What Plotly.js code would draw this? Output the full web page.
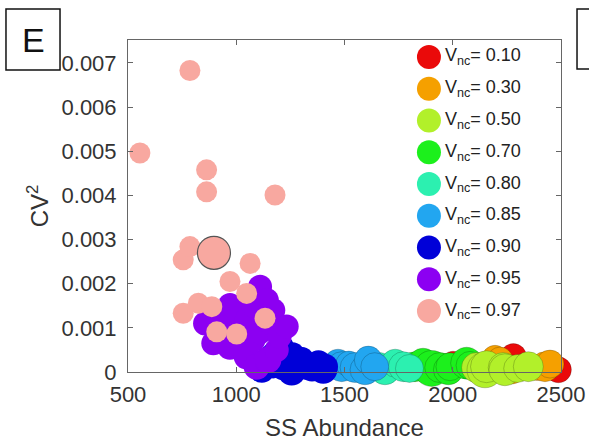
<!DOCTYPE html>
<html>
<head>
<meta charset="utf-8">
<script src="https://cdn.plot.ly/plotly-3.0.1.min.js"></script>
<style>html,body{margin:0;padding:0;background:#fff;}#chart{width:589px;height:443px;}</style>
</head>
<body>
<div id="chart"></div>
<script>
// ---- data ----
const seriesNames = ["V<sub>nc</sub>= 0.10","V<sub>nc</sub>= 0.30","V<sub>nc</sub>= 0.50","V<sub>nc</sub>= 0.70","V<sub>nc</sub>= 0.80","V<sub>nc</sub>= 0.85","V<sub>nc</sub>= 0.90","V<sub>nc</sub>= 0.95","V<sub>nc</sub>= 0.97"];

const x_v010 = [2001, 2100, 2180, 2280, 2330, 2488];
const y_v010 = [0.00020, 0.00015, 0.00020, 0.00035, 0.00015, 0.00005];
const s_v010 = [24, 24, 24, 26, 24, 26];

const x_v030 = [2195, 2218, 2272, 2390, 2426, 2449];
const y_v030 = [0.00031, 0.00027, 0.00002, 0.00010, 0.00012, 0.00018];
const s_v030 = [26, 26, 26, 26, 30, 28];

const x_v050 = [2110, 2149, 2156, 2233, 2241, 2300, 2349];
const y_v050 = [0.00010, 0.00005, 0.00012, 0.00010, 0.00005, 0.00008, 0.00012];
const s_v050 = [30, 36, 32, 30, 32, 28, 30];

const x_v070 = [1826, 1863, 1903, 1940, 1980, 1987, 2064, 2080];
const y_v070 = [0.00012, 0.00020, 0.00008, 0.00010, 0.00005, 0.00012, 0.00020, 0.00015];
const s_v070 = [30, 30, 36, 30, 30, 28, 32, 28];

const x_v080 = [1660, 1687, 1734, 1772, 1800];
const y_v080 = [0.00015, 0.00005, 0.00020, 0.00012, 0.00008];
const s_v080 = [26, 30, 28, 30, 28];

const x_v085 = [1470, 1487, 1520, 1549, 1595, 1610, 1640];
const y_v085 = [0.00020, 0.00012, 0.00018, 0.00010, 0.00005, 0.00027, 0.00012];
const s_v085 = [28, 30, 26, 30, 30, 28, 28];

const x_v090 = [1118, 1160, 1170, 1180, 1202, 1210, 1220, 1233, 1256, 1260, 1294, 1302, 1325, 1350, 1380, 1402, 1410];
const y_v090 = [0.00005, 0.00035, 0.00015, 0.00045, 0.00057, 0.00057, 0.00010, 0.00027, 0.00001, 0.00040, 0.00027, 0.00027, 0.00012, 0.00008, 0.00020, 0.00005, 0.00012];
const s_v090 = [26, 24, 26, 24, 24, 24, 26, 26, 28, 24, 26, 26, 26, 26, 26, 28, 26];

const x_v095 = [856, 894, 930, 940, 971, 971, 1000, 1000, 1020, 1048, 1048, 1079, 1080, 1094, 1110, 1110, 1141, 1141, 1148, 1160, 1171, 1187, 1200, 1233];
const y_v095 = [0.00110, 0.00065, 0.00090, 0.00130, 0.00152, 0.00057, 0.00140, 0.00060, 0.00095, 0.00118, 0.00035, 0.00072, 0.00150, 0.00012, 0.00193, 0.00090, 0.00163, 0.00027, 0.00027, 0.00110, 0.00140, 0.00050, 0.00080, 0.00103];
const s_v095 = [24, 24, 24, 24, 24, 26, 24, 26, 24, 24, 26, 24, 24, 26, 24, 24, 24, 26, 26, 24, 24, 24, 24, 24];

const x_v097 = [555, 786, 863, 863, 1179, 755, 786, 1064, 971, 1048, 755, 825, 887, 910, 1002, 1133, 897];
const y_v097 = [0.00496, 0.00683, 0.00458, 0.00408, 0.00401, 0.00254, 0.00284, 0.00246, 0.00205, 0.00178, 0.00133, 0.00156, 0.00148, 0.00091, 0.00086, 0.00122, 0.00270];
const s_v097 = [21, 21, 21, 21, 21, 21, 21, 21, 21, 21, 21, 21, 21, 21, 21, 21, 33];

const xTicks = [500, 1000, 1500, 2000, 2500];
const yTicks = [0, 0.001, 0.002, 0.003, 0.004, 0.005, 0.006, 0.007];

// ---- styling ----
const colors = ["#ea0a0a", "#f5a000", "#b2f02a", "#1cf01c", "#2cf0b0", "#22a6f0", "#0000d8", "#8c00f2", "#f8a8a0"];
const FONT = "Liberation Sans, Arial, Helvetica, sans-serif";

const seriesX = [x_v010, x_v030, x_v050, x_v070, x_v080, x_v085, x_v090, x_v095, x_v097];
const seriesY = [y_v010, y_v030, y_v050, y_v070, y_v080, y_v085, y_v090, y_v095, y_v097];
const seriesS = [s_v010, s_v030, s_v050, s_v070, s_v080, s_v085, s_v090, s_v095, s_v097];
const drawOrder = [0, 1, 3, 2, 4, 5, 6, 7, 8];

const traces = drawOrder.map(i => {
  const isPink = i === 8;
  const lw = seriesS[i].map(s => isPink ? (s > 25 ? 1.2 : 0) : (i <= 5 ? 0.8 : 0));
  return {
    type: "scatter", mode: "markers", x: seriesX[i], y: seriesY[i],
    cliponaxis: false, showlegend: false, hoverinfo: "skip",
    marker: { size: seriesS[i], color: colors[i], opacity: 1,
      line: { width: lw, color: isPink ? "#555" : "rgba(0,0,0,0.25)" } }
  };
});

// custom legend drawn with its own hidden axes
traces.push({
  type: "scatter", mode: "markers+text", xaxis: "x2", yaxis: "y2",
  x: seriesNames.map(() => 0.695), y: seriesNames,
  text: seriesNames, textposition: "middle right",
  textfont: { family: FONT, size: 18, color: "#222" },
  marker: { size: 24, color: colors }, showlegend: false, hoverinfo: "skip", cliponaxis: false
});

const axisCommon = {
  showline: true, linecolor: "#666", linewidth: 1, mirror: "ticks",
  ticks: "inside", ticklen: 5, tickcolor: "#666", showgrid: false, zeroline: false,
  tickfont: { family: FONT, size: 22, color: "#333" }
};

const layout = {
  width: 589, height: 443,
  margin: { l: 128, r: 28, t: 40, b: 71 },
  paper_bgcolor: "#fff", plot_bgcolor: "rgba(0,0,0,0)",
  showlegend: false,
  xaxis: Object.assign({}, axisCommon, {
    range: [500, 2500], tickvals: xTicks, ticklabelstandoff: 3,
    title: { text: "SS Abundance", font: { family: FONT, size: 24, color: "#333" }, standoff: 12 }
  }),
  yaxis: Object.assign({}, axisCommon, {
    range: [0, 0.00752], tickvals: yTicks, ticktext: yTicks.map(v => String(+v.toFixed(3))),
    ticklabelstandoff: 6,
    title: { text: "CV<sup>2</sup>", font: { family: FONT, size: 24, color: "#333" }, standoff: 6 }
  }),
  xaxis2: { domain: [0, 1], range: [0, 1], anchor: "y2", visible: false, fixedrange: true },
  yaxis2: { domain: [0.1358, 0.9967], anchor: "x2", type: "category", range: [8.5, -0.5], visible: false, fixedrange: true },
  shapes: [
    { type: "rect", xref: "paper", yref: "paper", x0: -0.2818, x1: -0.157, y0: 0.9096, y1: 1.093, line: { color: "#111", width: 1.5 } },
    { type: "rect", xref: "paper", yref: "paper", x0: 1.037, x1: 1.25, y0: 0.9127, y1: 1.093, line: { color: "#111", width: 1.5 } }
  ],
  annotations: [
    { text: "E", xref: "paper", yref: "paper", x: -0.219, y: 1.001, showarrow: false,
      xanchor: "center", yanchor: "middle", font: { family: FONT, size: 34, color: "#111" } }
  ]
};

Plotly.newPlot("chart", traces, layout, { staticPlot: true, displayModeBar: false });
</script>
</body>
</html>
